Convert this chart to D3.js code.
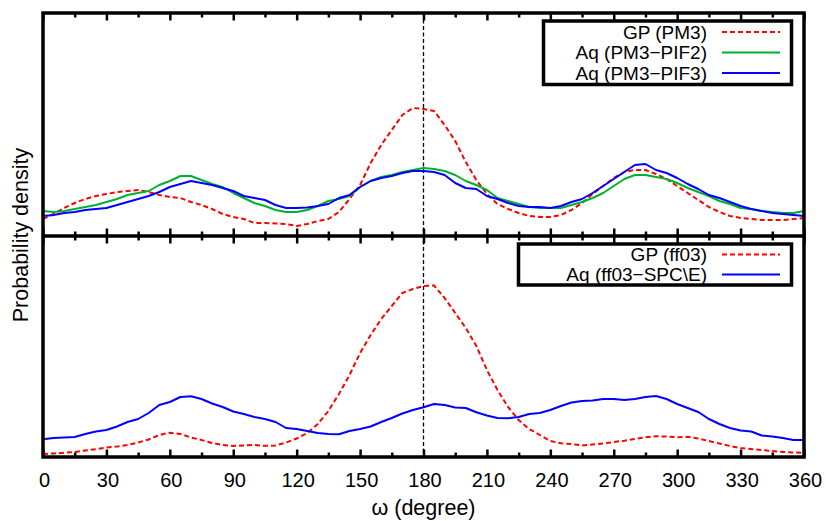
<!DOCTYPE html>
<html>
<head>
<meta charset="utf-8">
<script src="https://cdn.jsdelivr.net/npm/d3@7"></script>
<style>
  html, body { margin: 0; padding: 0; background: #fff; }
  svg { display: block; font-family: "Liberation Sans", Arial, Helvetica, sans-serif; }
</style>
</head>
<body>
<svg id="chart" width="826" height="521"></svg>
<script>
// ---- data (omega in degrees, density in arbitrary units) ----
const omega = d3.range(0, 361, 5);

const gpPM3 = [17,22,28,33,37,40,42,44,45,46,44,41,39,38,34,31,27,22,19,17,13,13,12.5,12,10,12,15,17,24,37,51,73,91,106,121,128,127,125,111,95,74,56,42,32,27,23,20,19,19,21,26,33,42,50,58,64,66,66,62,57,50,43,36,29,24,20,18,17,16,16,16,17,18];
const aqPIF2 = [25,24,25,27,29,31,34,37,41,43,45,51,55,60,60,56,52,49,43,38,33,30,26,24,24,26,30,35,37,40,49,55,59,61,64,66,68,67,65,61,55,51,46,38,35,32,29,28,28,28,31,34,38,43,50,57,61,61,59,57,53,48,44,40,35,32,28,27,25,24,23,23,25];
const aqPIF3 = [20,21,23,24,26,27,28,31,34,37,40,44,49,52,55,53,51,48,45,40,38,36,31,28,28,28.5,30,32,38,41,49,55,58,60,63,65,65,64,61,53,48,47,40,37,33,30,29,29,28,30,34,37,43,50,57,64,71,72,66,63,58,52,47,41,38,34,30,27,25,23,22,21,20];

const gpFF03 = [3,3.5,4.2,5,6.5,7.8,9.4,10.5,12,14.5,17.5,22,24.3,23,19.5,17,14,12,11,11.5,12,11.2,11.5,14.5,18.5,24,33,46,63,82,104,122,138,151,164,168,171,171.5,159,144,129,111,87,67,50,37,28,22,16,13.7,13,11.5,12.5,13.5,15,16.3,18,19.7,20.7,20.5,19.7,20.2,18.5,16,13.5,11,9,8,7,6,5,4.5,4.3];
const aqSPCE = [17.7,19,19.5,20,23,25.5,27,30.5,35,38,44,52,55,60,60.7,58,53.5,50,45.5,43,40,38,35,29,28,26,24,23,22.7,26,28,30.5,35,39,43.5,47,49.7,53,52,49.5,49,44.7,41.5,39,38.7,40,43,44,47,51,54.5,56,56.5,58,58,57,58,60,61,58,53,49,45,38,33,29,26.5,25.5,21.5,20.5,19,17,17];

const xTicks = d3.range(0, 361, 30);
const xMinor = d3.range(15, 361, 30);
const topMax = 223, bottomMax = 221;

const topSeries = [
  {name: "GP (PM3)", values: gpPM3, color: "#ff0000", dash: "5,3"},
  {name: "Aq (PM3\u2212PIF2)", values: aqPIF2, color: "#00b030", dash: null},
  {name: "Aq (PM3\u2212PIF3)", values: aqPIF3, color: "#0000ff", dash: null}
];
const bottomSeries = [
  {name: "GP (ff03)", values: gpFF03, color: "#ff0000", dash: "5,3"},
  {name: "Aq (ff03\u2212SPC\\E)", values: aqSPCE, color: "#0000ff", dash: null}
];

// ---- layout ----
const svg = d3.select("#chart");
const L = 43, R = 804, T = 13, M = 236, B = 457;

const x = d3.scaleLinear().domain([0, 360]).range([L, R]);
const yTop = d3.scaleLinear().domain([0, topMax]).range([M, T]);
const yBot = d3.scaleLinear().domain([0, bottomMax]).range([B, M]);

svg.append("defs").append("clipPath").attr("id", "clip")
  .append("rect").attr("x", L).attr("y", T).attr("width", R - L).attr("height", B - T);

const plot = svg.append("g").attr("clip-path", "url(#clip)");

// vertical dashed line at 180
plot.append("line")
  .attr("x1", x(180)).attr("x2", x(180)).attr("y1", T).attr("y2", B)
  .attr("stroke", "#000").attr("stroke-width", 1.3).attr("stroke-dasharray", "4,2.5");

function drawSeries(series, y) {
  series.forEach(s => {
    const line = d3.line().x((d, i) => x(omega[i])).y(d => y(d));
    plot.append("path")
      .attr("d", line(s.values))
      .attr("fill", "none")
      .attr("stroke", s.color)
      .attr("stroke-width", 2)
      .attr("stroke-linejoin", "round")
      .attr("stroke-dasharray", s.dash);
  });
}
drawSeries(topSeries, yTop);
drawSeries(bottomSeries, yBot);

// ---- ticks ----
function tickAxis(gen, yPos, vals, size, labels) {
  const a = gen(x).tickValues(vals).tickSizeInner(size).tickSizeOuter(0);
  if (!labels) a.tickFormat("");
  const g = svg.append("g").attr("transform", `translate(0,${yPos})`).call(a);
  g.select(".domain").remove();
  g.selectAll(".tick line").attr("stroke", "#000").attr("stroke-width", 2.5);
  return g;
}
tickAxis(d3.axisTop, T, xTicks, -7.5, false);
tickAxis(d3.axisTop, T, xMinor, -4.5, false);
tickAxis(d3.axisBottom, M, xTicks, -7.5, false);
tickAxis(d3.axisBottom, M, xMinor, -4.5, false);
tickAxis(d3.axisTop, M, xTicks, -7.5, false);
tickAxis(d3.axisTop, M, xMinor, -4.5, false);
const gx = tickAxis(d3.axisBottom, B, xTicks, -7.5, true);
gx.attr("font-family", null);
gx.selectAll(".tick text")
  .attr("font-size", 20).attr("fill", "#000")
  .attr("y", 0).attr("dy", 0).attr("transform", "translate(1,30)");
tickAxis(d3.axisBottom, B, xMinor, -4.5, false);

// ---- frame ----
svg.append("rect").attr("x", L).attr("y", T).attr("width", R - L).attr("height", B - T)
  .attr("fill", "none").attr("stroke", "#000").attr("stroke-width", 3.5);
svg.append("line").attr("x1", L).attr("x2", R).attr("y1", M).attr("y2", M)
  .attr("stroke", "#000").attr("stroke-width", 3.5);

// ---- axis labels ----
svg.append("text").attr("x", x(180)).attr("y", 515).attr("text-anchor", "middle")
  .attr("font-size", 21.5).text("\u03c9 (degree)");
svg.append("text").attr("transform", `translate(28,${(T + B) / 2}) rotate(-90)`)
  .attr("text-anchor", "middle").attr("font-size", 21.5).text("Probability density");

// ---- legends ----
function legend(series, box, rowY) {
  const g = svg.append("g");
  g.append("rect").attr("x", box[0]).attr("y", box[1]).attr("width", box[2]).attr("height", box[3])
    .attr("fill", "#fff").attr("stroke", "#000").attr("stroke-width", 3.5);
  series.forEach((s, i) => {
    const yy = rowY[i];
    g.append("text").attr("x", 707).attr("y", yy).attr("dy", "0.36em")
      .attr("text-anchor", "end").attr("font-size", 19).text(s.name);
    g.append("line").attr("x1", 722).attr("x2", 780).attr("y1", yy).attr("y2", yy)
      .attr("stroke", s.color).attr("stroke-width", 2).attr("stroke-dasharray", s.dash);
  });
}
legend(topSeries, [543.5, 21, 248, 63.5], [32, 52.5, 73]);
legend(bottomSeries, [518.5, 244, 273, 41], [254.5, 274.5]);
</script>
</body>
</html>
